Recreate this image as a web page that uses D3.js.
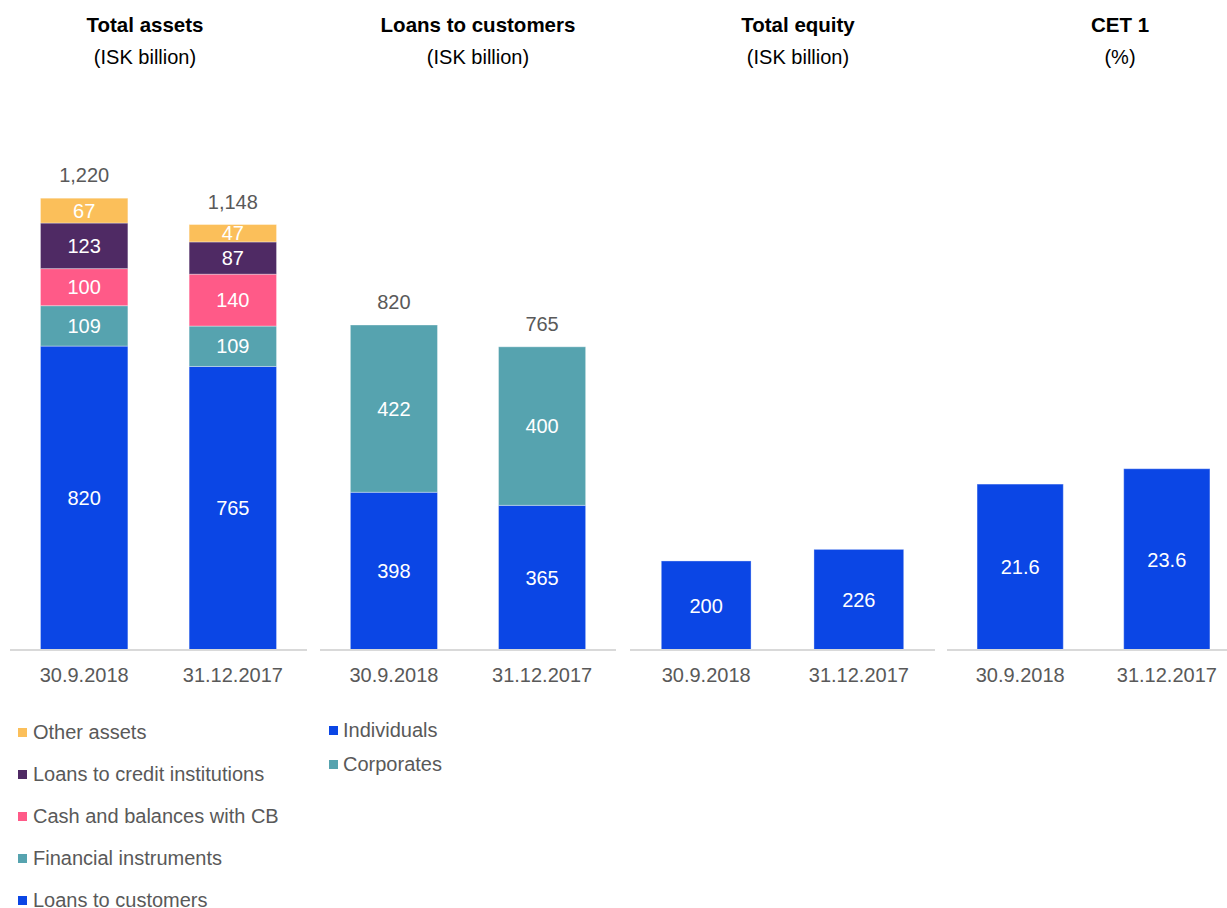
<!DOCTYPE html>
<html>
<head>
<meta charset="utf-8">
<script src="https://cdn.jsdelivr.net/npm/d3@7"></script>
<style>
  html, body { margin: 0; padding: 0; background: #ffffff; }
  svg { display: block; font-family: Arial, "Liberation Sans", sans-serif; }
</style>
</head>
<body>
<svg id="chart" width="1227" height="908"></svg>
<script>
// ---------- DATA ----------
const dates = ["30.9.2018", "31.12.2017"];

// Total assets (ISK billion), stacked bottom -> top
const assetSeries = ["Loans to customers", "Financial instruments", "Cash and balances with CB", "Loans to credit institutions", "Other assets"];
const loansToCustomers = [820, 765];
const financialInstruments = [109, 109];
const cashBalancesCB = [100, 140];
const loansToCreditInst = [123, 87];
const otherAssets = [67, 47];
const totalAssetsLabels = [1220, 1148];

// Loans to customers (ISK billion)
const loanSeries = ["Individuals", "Corporates"];
const individuals = [398, 365];
const corporates = [422, 400];
const totalLoansLabels = [820, 765];

// Total equity (ISK billion)
const totalEquity = [200, 226];

// CET 1 (%)
const cet1 = [21.6, 23.6];

const titles = ["Total assets", "Loans to customers", "Total equity", "CET 1"];
const subtitles = ["(ISK billion)", "(ISK billion)", "(ISK billion)", "(%)"];

// ---------- STYLE ----------
const colors = {
  "Loans to customers": "#0B46E5",
  "Financial instruments": "#56A3AF",
  "Cash and balances with CB": "#FF5A88",
  "Loans to credit institutions": "#4F2A64",
  "Other assets": "#FBBF5A",
  "Individuals": "#0B46E5",
  "Corporates": "#56A3AF"
};
const blue = "#0B46E5";
const grayText = "#595959";
const FS = 20;
const TFS = 20.5;

const svg = d3.select("#chart");
const baseY = 650, topY = 130;

// panel definitions: axis extent, y domain, title position
const panels = [
  { x0: 10,  x1: 307,  ymax: 1403, tx: 145 },
  { x0: 320, x1: 616,  ymax: 1312, tx: 478 },
  { x0: 630, x1: 935,  ymax: 1168, tx: 798 },
  { x0: 947, x1: 1240, ymax: 67.7, tx: 1120 }
];

panels.forEach(p => {
  p.x = d3.scaleBand().domain(dates).range([p.x0, p.x1]).paddingInner(0.412).paddingOuter(0.205);
  p.y = d3.scaleLinear().domain([0, p.ymax]).range([baseY, topY]);
});

// titles
panels.forEach((p, i) => {
  svg.append("text").attr("x", p.tx).attr("y", 32).attr("text-anchor", "middle")
    .attr("font-size", TFS).attr("font-weight", "bold").attr("fill", "#000").text(titles[i]);
  svg.append("text").attr("x", p.tx).attr("y", 64).attr("text-anchor", "middle")
    .attr("font-size", FS).attr("fill", "#000").text(subtitles[i]);
});

function drawStack(p, keys, seriesArrays, totals) {
  const rows = dates.map((d, i) => {
    const r = { date: d };
    keys.forEach((k, j) => r[k] = seriesArrays[j][i]);
    return r;
  });
  const stacked = d3.stack().keys(keys)(rows);
  const g = svg.append("g");
  stacked.forEach(layer => {
    layer.forEach(seg => {
      const d = seg.data.date;
      const y0 = p.y(seg[0]), y1 = p.y(seg[1]);
      g.append("rect")
        .attr("x", p.x(d)).attr("width", p.x.bandwidth())
        .attr("y", y1).attr("height", y0 - y1)
        .attr("fill", colors[layer.key])
        .attr("stroke", "rgba(255,255,255,0.35)").attr("stroke-width", 1);
      g.append("text")
        .attr("x", p.x(d) + p.x.bandwidth() / 2).attr("y", (y0 + y1) / 2)
        .attr("dy", "0.36em").attr("text-anchor", "middle")
        .attr("font-size", FS).attr("fill", "#fff")
        .text(seg.data[layer.key]);
    });
  });
  if (totals) {
    const last = stacked[stacked.length - 1];
    last.forEach((seg, i) => {
      g.append("text")
        .attr("x", p.x(seg.data.date) + p.x.bandwidth() / 2)
        .attr("y", p.y(seg[1]) - 16)
        .attr("text-anchor", "middle").attr("font-size", FS).attr("fill", grayText)
        .text(d3.format(",")(totals[i]));
    });
  }
}

function drawSimple(p, values, fmt) {
  const g = svg.append("g");
  dates.forEach((d, i) => {
    const y1 = p.y(values[i]);
    g.append("rect")
      .attr("x", p.x(d)).attr("width", p.x.bandwidth())
      .attr("y", y1).attr("height", baseY - y1)
      .attr("fill", blue)
      .attr("stroke", "rgba(255,255,255,0.35)").attr("stroke-width", 1);
    g.append("text")
      .attr("x", p.x(d) + p.x.bandwidth() / 2).attr("y", (y1 + baseY) / 2)
      .attr("dy", "0.36em").attr("text-anchor", "middle")
      .attr("font-size", FS).attr("fill", "#fff")
      .text(fmt(values[i]));
  });
}

drawStack(panels[0], assetSeries, [loansToCustomers, financialInstruments, cashBalancesCB, loansToCreditInst, otherAssets], totalAssetsLabels);
drawStack(panels[1], loanSeries, [individuals, corporates], totalLoansLabels);
drawSimple(panels[2], totalEquity, d3.format("d"));
drawSimple(panels[3], cet1, d3.format(".1f"));

// axes
panels.forEach(p => {
  const ax = svg.append("g").attr("transform", `translate(0,${baseY})`)
    .call(d3.axisBottom(p.x).tickSize(0).tickPadding(18));
  ax.select(".domain").attr("stroke", "#d9d9d9").attr("stroke-width", 2)
    .attr("d", `M${p.x0},0H${Math.min(p.x1, 1227)}`);
  ax.selectAll("text").attr("font-size", FS).attr("fill", grayText)
    .attr("font-family", "Arial, 'Liberation Sans', sans-serif");
});

// legends
const leg1 = assetSeries.slice().reverse();
leg1.forEach((k, i) => {
  const y = 732 + i * 42;
  svg.append("rect").attr("x", 18).attr("y", y - 4).attr("width", 9).attr("height", 9).attr("fill", colors[k]);
  svg.append("text").attr("x", 33).attr("y", y).attr("dy", "0.36em")
    .attr("font-size", FS).attr("fill", grayText).text(k);
});
loanSeries.forEach((k, i) => {
  const y = 730 + i * 34;
  svg.append("rect").attr("x", 329).attr("y", y - 4).attr("width", 9).attr("height", 9).attr("fill", colors[k]);
  svg.append("text").attr("x", 343).attr("y", y).attr("dy", "0.36em")
    .attr("font-size", FS).attr("fill", grayText).text(k);
});
</script>
</body>
</html>
